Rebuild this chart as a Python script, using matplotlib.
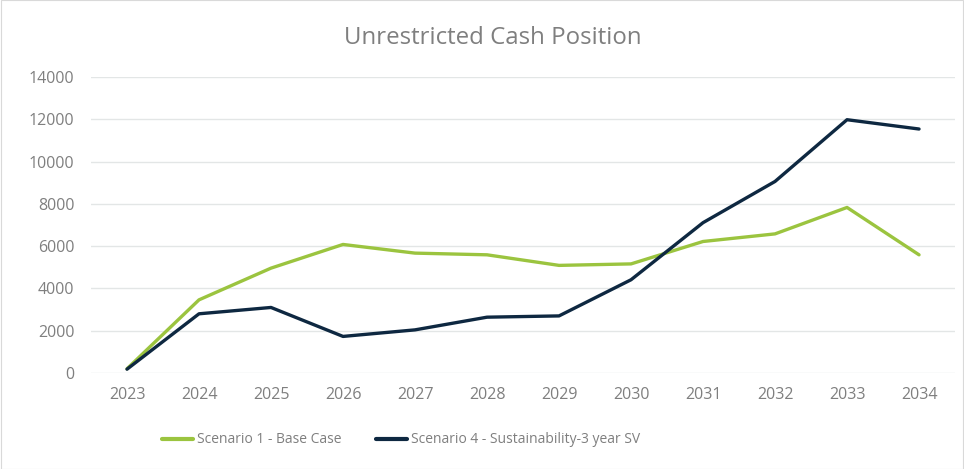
import matplotlib
matplotlib.use("Agg")
import matplotlib.pyplot as plt
from matplotlib.ticker import MultipleLocator

years = ["2023", "2024", "2025", "2026", "2027", "2028",
         "2029", "2030", "2031", "2032", "2033", "2034"]
base_case = [200, 3460, 4960, 6080, 5670, 5590, 5090, 5160, 6220, 6580, 7830, 5590]
sustainability = [180, 2800, 3100, 1730, 2040, 2640, 2700, 4410, 7110, 9060, 11980, 11540]

GREEN = "#9BC43F"
NAVY = "#0E2841"
GREY = "#7F7F7F"

plt.rcParams["font.family"] = ["Open Sans", "DejaVu Sans"]

fig = plt.figure(figsize=(9.64, 4.69), dpi=100)
ax = fig.add_axes([0.0944, 0.2047, 0.8963, 0.6311])

x = range(len(years))
ax.plot(x, base_case, color=GREEN, lw=2.4, solid_capstyle="round",
        label="Scenario 1 - Base Case")
ax.plot(x, sustainability, color=NAVY, lw=2.4, solid_capstyle="round",
        label="Scenario 4 - Sustainability-3 year SV")

ax.set_xlim(-0.5, len(years) - 0.5)
ax.set_ylim(0, 14000)
ax.yaxis.set_major_locator(MultipleLocator(2000))
ax.set_xticks(list(x))
ax.set_xticklabels(years)
ax.tick_params(colors=GREY, labelsize=11.5, length=0, pad=10)
ax.tick_params(axis="y", pad=12)
ax.grid(axis="y", color="#E3E6E6", lw=1)
ax.set_axisbelow(True)
for s in ax.spines.values():
    s.set_visible(False)

fig.text(0.511, 0.92, "Unrestricted Cash Position", ha="center", va="center",
         fontsize=17.3, color=GREY)
leg = fig.legend(loc="center", bbox_to_anchor=(0.416, 0.062), ncol=2, frameon=False,
                 fontsize=10, labelcolor=GREY, handlelength=2.2, handletextpad=0.3,
                 columnspacing=2.5)
for line in leg.get_lines():
    line.set_linewidth(3)

fig.patches.append(plt.Rectangle((0.001, 0.001), 0.998, 0.998, transform=fig.transFigure,
                                 fill=False, ec="#D9D9D9", lw=0.8))

fig.savefig("out.png", dpi=100)
